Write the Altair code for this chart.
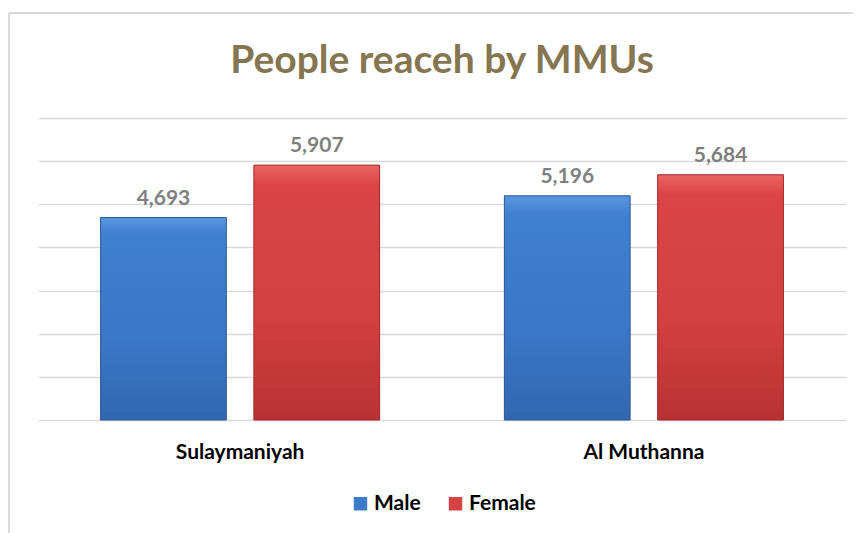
import altair as alt
import pandas as pd

regions = ["Sulaymaniyah", "Sulaymaniyah", "Al Muthanna", "Al Muthanna"]
series = ["Male", "Female", "Male", "Female"]
values = [4693, 5907, 5196, 5684]
region_order = ["Sulaymaniyah", "Al Muthanna"]
series_order = ["Male", "Female"]
colors = ["#3b7cca", "#d64141"]
title_text = ["People reaceh by MMUs"]

df = pd.DataFrame({"region": regions, "series": series, "value": values})

FONT = "Lato"

x = alt.X("region:N", sort=region_order, title=None,
          scale=alt.Scale(paddingInner=0.309, paddingOuter=0.155),
          axis=alt.Axis(labelAngle=0, labelFont=FONT, labelFontSize=21, labelFontWeight="bold",
                        labelColor="#000000", labelPadding=21, ticks=False, domain=False))
xo = alt.XOffset("series:N", sort=series_order, scale=alt.Scale(paddingInner=0.18, paddingOuter=0))
y = alt.Y("value:Q", title=None,
          scale=alt.Scale(domain=[0, 7000], nice=False),
          axis=alt.Axis(values=[0, 1000, 2000, 3000, 4000, 5000, 6000, 7000], labels=False,
                        ticks=False, domain=False, grid=True, gridColor="#d9d9d9", gridWidth=1.5))

base = alt.Chart(df)

bars = base.mark_bar().encode(
    x=x, xOffset=xo, y=y,
    color=alt.Color("series:N", sort=series_order,
                    scale=alt.Scale(domain=series_order, range=colors),
                    legend=alt.Legend(title=None, orient="none", direction="horizontal",
                                      legendX=312, legendY=375,
                                      symbolType="square", symbolSize=180, symbolStrokeWidth=0,
                                      labelFont=FONT, labelFontSize=21, labelFontWeight="bold",
                                      labelColor="#000000", columnPadding=24,
                                      labelOffset=3)),
)

grad_blue = alt.Gradient(gradient="linear", x1=0, y1=0, x2=0, y2=1, stops=[
    alt.GradientStop(color="#5a98e0", offset=0),
    alt.GradientStop(color="#3f80d0", offset=0.08),
    alt.GradientStop(color="#3a77c6", offset=0.6),
    alt.GradientStop(color="#3367b0", offset=1)])
grad_red = alt.Gradient(gradient="linear", x1=0, y1=0, x2=0, y2=1, stops=[
    alt.GradientStop(color="#ec6363", offset=0),
    alt.GradientStop(color="#db4545", offset=0.08),
    alt.GradientStop(color="#d43f3f", offset=0.6),
    alt.GradientStop(color="#b83232", offset=1)])

overlay = base.mark_bar(strokeWidth=1).encode(
    x=x, xOffset=xo, y=y,
    fill=alt.condition(alt.datum.series == "Male", alt.value(grad_blue), alt.value(grad_red)),
    stroke=alt.condition(alt.datum.series == "Male", alt.value("#2c5a9a"), alt.value("#a02a2a")),
)

labels = base.mark_text(baseline="bottom", dy=-9, font=FONT, fontSize=21, fontWeight="bold",
                        color="#7f7f7f").encode(
    x=x, xOffset=xo, y=y,
    text=alt.Text("value:Q", format=",")
)

one = alt.Chart(pd.DataFrame({"t": title_text}))

frame_top = one.mark_rule(stroke="#d9d9d9", strokeWidth=2).encode(
    x=alt.value(-29), x2=alt.value(830), y=alt.value(-105))
frame_left = one.mark_rule(stroke="#d9d9d9", strokeWidth=2).encode(
    x=alt.value(-29), y=alt.value(-105), y2=alt.value(430))

title = one.mark_text(font=FONT, fontSize=39, fontWeight="bold", color="#857550",
                      align="center", baseline="alphabetic").encode(
    x=alt.value(404), y=alt.value(-45), text="t:N")

chart = alt.layer(frame_top, frame_left, bars, overlay, labels, title).properties(
    width=808, height=302,
    padding={"left": 30, "top": 110, "right": 7, "bottom": 113},
    autosize=alt.AutoSizeParams(type="none"),
).configure_view(stroke=None)

chart.save("out.html", embed_options={"renderer": "svg", "actions": False})
